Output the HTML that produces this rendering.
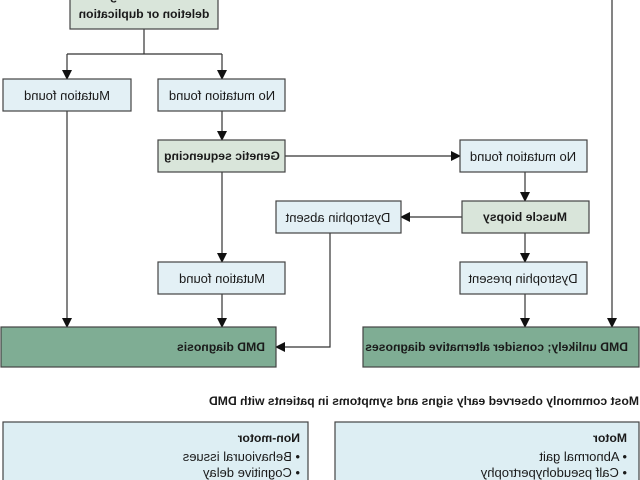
<!DOCTYPE html>
<html><head><meta charset="utf-8"><style>
html,body{margin:0;padding:0;background:#fff;width:640px;height:480px;overflow:hidden}
svg{display:block}
text{font-family:"Liberation Sans Narrow","Liberation Sans",sans-serif;font-size:13px;fill:#1a1a1a}
.b{font-weight:bold;font-size:12.2px}
</style></head><body>
<svg width="640" height="480" viewBox="0 0 640 480" xmlns="http://www.w3.org/2000/svg">
<defs><marker id="a" markerWidth="10" markerHeight="10" refX="9" refY="5" orient="auto" markerUnits="userSpaceOnUse"><path d="M0,0 L10,5 L0,10 z" fill="#111"/></marker></defs>
<g transform="translate(640,0) scale(-1,1)">
<g stroke="#333" stroke-width="1.2" fill="none">
<path d="M496 29 V54 M418 54 H573"/>
<path d="M573 54 V79" marker-end="url(#a)"/>
<path d="M418 54 V79" marker-end="url(#a)"/>
<path d="M418 111 V140" marker-end="url(#a)"/>
<path d="M355 156 H180" marker-end="url(#a)"/>
<path d="M115 172 V201" marker-end="url(#a)"/>
<path d="M178 217 H239" marker-end="url(#a)"/>
<path d="M418 172 V262" marker-end="url(#a)"/>
<path d="M115 233 V262" marker-end="url(#a)"/>
<path d="M418 294 V327" marker-end="url(#a)"/>
<path d="M115 294 V327" marker-end="url(#a)"/>
<path d="M573 111 V327" marker-end="url(#a)"/>
<path d="M28 0 V327" marker-end="url(#a)"/>
<path d="M310 233 V347 H364" marker-end="url(#a)"/>
</g>
<g stroke="#444" stroke-width="1.2">
<rect x="422" y="-15" width="148" height="44" fill="#d9e5da"/>
<rect x="509" y="79" width="128" height="32" fill="#e3f0f5"/>
<rect x="355" y="79" width="127" height="32" fill="#e3f0f5"/>
<rect x="355" y="140" width="127" height="32" fill="#d9e5da"/>
<rect x="53" y="140" width="127" height="32" fill="#e3f0f5"/>
<rect x="51" y="201" width="127" height="32" fill="#d9e5da"/>
<rect x="239" y="201" width="125" height="32" fill="#e3f0f5"/>
<rect x="355" y="262" width="127" height="32" fill="#e3f0f5"/>
<rect x="53" y="262" width="127" height="32" fill="#e3f0f5"/>
<rect x="364" y="327" width="275" height="40" fill="#7fad94"/>
<rect x="1" y="327" width="276" height="40" fill="#7fad94"/>
<rect x="332" y="422" width="305" height="70" fill="#ddeef3"/>
<rect x="1" y="422" width="304" height="70" fill="#ddeef3"/>
</g>
<text x="496" y="0" text-anchor="middle" class="b">Genetic testing for</text>
<text x="496" y="18" text-anchor="middle" class="b">deletion or duplication</text>
<text x="573" y="100" text-anchor="middle">Mutation found</text>
<text x="418" y="100" text-anchor="middle">No mutation found</text>
<text x="418" y="160" text-anchor="middle" class="b">Genetic sequencing</text>
<text x="117" y="161" text-anchor="middle">No mutation found</text>
<text x="115" y="221" text-anchor="middle" class="b">Muscle biopsy</text>
<text x="302" y="222" text-anchor="middle">Dystrophin absent</text>
<text x="418" y="283" text-anchor="middle">Mutation found</text>
<text x="117" y="283" text-anchor="middle">Dystrophin present</text>
<text x="375" y="351" class="b">DMD diagnosis</text>
<text x="12" y="351" class="b">DMD unlikely; consider alternative diagnoses</text>
<text x="1" y="405" class="b">Most commonly observed early signs and symptoms in patients with DMD</text>
<text x="340" y="442" class="b">Non-motor</text>
<text x="340" y="461">• Behavioural issues</text>
<text x="340" y="477">• Cognitive delay</text>
<text x="13" y="442" class="b">Motor</text>
<text x="13" y="461">• Abnormal gait</text>
<text x="13" y="477">• Calf pseudohypertrophy</text>
</g>
</svg>
</body></html>
